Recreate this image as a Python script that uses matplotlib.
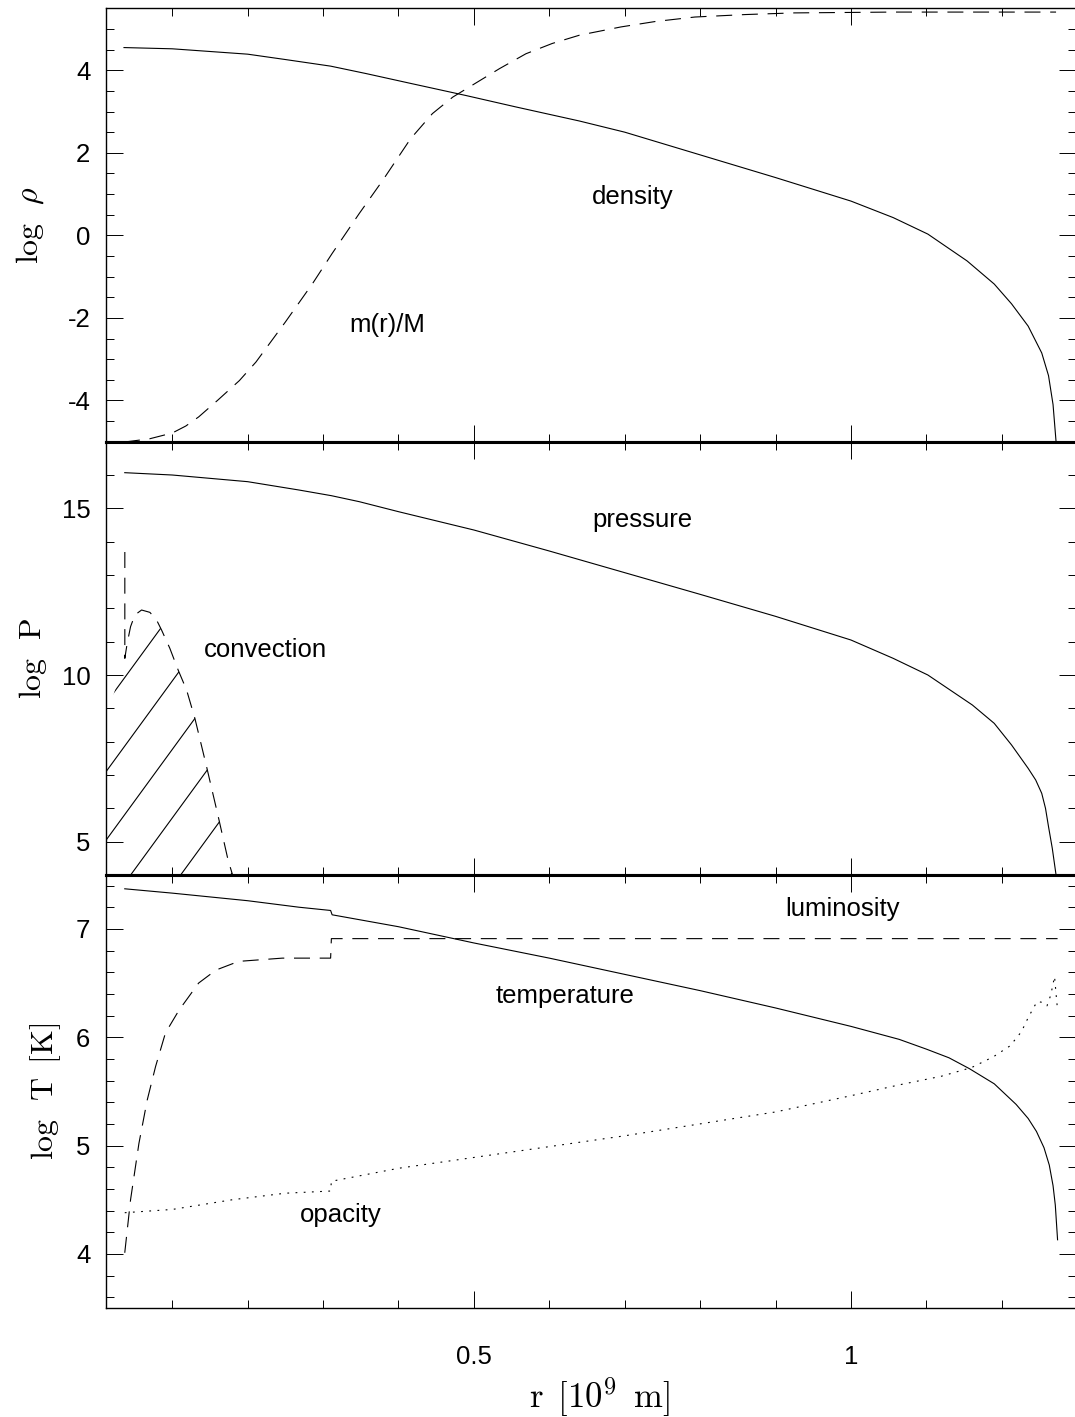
import numpy as np
import matplotlib
matplotlib.use("Agg")
import matplotlib.pyplot as plt
from matplotlib.patches import Polygon
from matplotlib.ticker import MultipleLocator, FixedLocator, FuncFormatter

plt.rcParams["font.family"] = ["Liberation Sans", "DejaVu Sans"]
plt.rcParams["mathtext.fontset"] = "cm"
plt.rcParams["axes.unicode_minus"] = False
plt.rcParams["lines.scale_dashes"] = False

# radius [10^9 m] and log density
r_rho = [0.036, 0.10, 0.20, 0.250, 0.310, 0.357, 0.414, 0.489, 0.556, 0.640, 0.70,
         0.80, 0.90, 1.00, 1.056, 1.102, 1.154, 1.19, 1.213, 1.235, 1.253, 1.262,
         1.268, 1.272]
log_rho = [4.55, 4.52, 4.39, 4.26, 4.10, 3.92, 3.69, 3.39, 3.11, 2.77, 2.50,
           1.95, 1.40, 0.83, 0.43, 0.03, -0.62, -1.18, -1.66, -2.20, -2.85, -3.40,
           -4.10, -5.0]

# mass fraction, drawn on the density scale
r_mass = [0.036, 0.07, 0.10, 0.118, 0.135, 0.160, 0.189, 0.211, 0.250, 0.286, 0.312,
          0.348, 0.379, 0.416, 0.445, 0.472, 0.498, 0.534, 0.569, 0.604, 0.640,
          0.695, 0.74, 0.793, 0.86, 0.925, 1.056, 1.272]
mass = [-5.01, -4.93, -4.79, -4.62, -4.40, -4.00, -3.52, -3.07, -2.10, -1.17, -0.44,
        0.53, 1.33, 2.34, 2.95, 3.35, 3.64, 4.04, 4.40, 4.65, 4.85,
        5.05, 5.18, 5.29, 5.35, 5.39, 5.41, 5.41]

# pressure
r_P = [0.037, 0.10, 0.20, 0.268, 0.311, 0.348, 0.40, 0.50, 0.60, 0.70, 0.80,
       0.90, 1.00, 1.056, 1.102, 1.161, 1.19, 1.213, 1.235, 1.245, 1.253, 1.258,
       1.262, 1.267, 1.272]
log_P = [16.07, 16.0, 15.8, 15.55, 15.38, 15.2, 14.9, 14.35, 13.72, 13.07, 12.42,
         11.76, 11.05, 10.5, 10.0, 9.1, 8.55, 7.9, 7.2, 6.85, 6.45, 6.0,
         5.45, 4.8, 4.0]

# convective boundary
r_conv = [0.0371, 0.0371, 0.0402, 0.0447, 0.0504, 0.0593, 0.0703, 0.0792, 0.0858,
          0.0968, 0.1078, 0.119, 0.130, 0.1455, 0.161, 0.174, 0.180]
P_conv = [13.69, 10.50, 10.95, 11.45, 11.80, 11.95, 11.88, 11.65, 11.35,
          10.80, 10.15, 9.55, 8.70, 7.25, 5.75, 4.45, 4.0]

# temperature
r_T = [0.037, 0.10, 0.20, 0.268, 0.310, 0.312, 0.40, 0.50, 0.60, 0.70, 0.80,
       0.90, 1.00, 1.064, 1.10, 1.13, 1.157, 1.19, 1.219, 1.235, 1.246, 1.256,
       1.263, 1.268, 1.271, 1.274]
log_T = [7.37, 7.33, 7.26, 7.20, 7.17, 7.13, 7.02, 6.87, 6.73, 6.58, 6.43,
         6.27, 6.10, 5.98, 5.89, 5.81, 5.71, 5.57, 5.38, 5.25, 5.13, 4.98,
         4.82, 4.63, 4.45, 4.13]

# luminosity
r_L = [0.037, 0.0447, 0.0558, 0.0668, 0.0779, 0.091, 0.109, 0.135, 0.158, 0.188,
       0.246, 0.310, 0.311, 1.274]
lum = [4.01, 4.50, 5.02, 5.42, 5.73, 6.04, 6.25, 6.50, 6.62, 6.70,
       6.73, 6.73, 6.91, 6.91]

# opacity
r_k = [0.037, 0.10, 0.18, 0.25, 0.310, 0.311, 0.40, 0.50, 0.60, 0.70, 0.80,
       0.90, 1.00, 1.064, 1.12, 1.16, 1.189, 1.211, 1.226, 1.235, 1.242, 1.247,
       1.255, 1.260, 1.265, 1.270, 1.272, 1.274]
opac = [4.38, 4.41, 4.50, 4.56, 4.58, 4.67, 4.79, 4.89, 4.99, 5.09, 5.20,
        5.31, 5.46, 5.56, 5.64, 5.72, 5.82, 5.92, 6.05, 6.18, 6.27, 6.33,
        6.32, 6.29, 6.39, 6.56, 6.40, 6.25]

XLIM = (0.0117, 1.2984)
FS = 18.5
DASH = (0, (11.5, 7.0))
DOT = (0, (1.3, 4.6))

fig = plt.figure(figsize=(10.75, 14.17), dpi=100)
left, width, h = 0.0983, 0.9026, 0.3058
ax1 = fig.add_axes([left, 0.6883, width, h])
ax2 = fig.add_axes([left, 0.3825, width, h])
ax3 = fig.add_axes([left, 0.0769, width, h])


def style_axis(ax, ylim, ymaj, ymin, show_x=False):
    ax.set_xlim(*XLIM)
    ax.set_ylim(*ylim)
    ax.xaxis.set_major_locator(FixedLocator([0.5, 1.0]))
    ax.xaxis.set_minor_locator(MultipleLocator(0.1))
    ax.yaxis.set_major_locator(MultipleLocator(ymaj))
    ax.yaxis.set_minor_locator(MultipleLocator(ymin))
    ax.xaxis.set_major_formatter(FuncFormatter(lambda v, p: "%g" % v))
    ax.yaxis.set_major_formatter(FuncFormatter(lambda v, p: "%g" % v))
    ax.tick_params(which="both", direction="in", top=True, right=True,
                   width=0.7, labelsize=FS, color="k")
    ax.tick_params(which="major", length=12)
    ax.tick_params(which="minor", length=6)
    ax.tick_params(axis="y", pad=11)
    ax.tick_params(axis="x", pad=26.5, labelbottom=show_x)
    for s in ax.spines.values():
        s.set_linewidth(1.0)


style_axis(ax1, (-5, 5.5), 2, 0.5)
style_axis(ax2, (4, 17), 5, 1)
style_axis(ax3, (3.5, 7.5), 1, 0.2, show_x=True)
ax1.spines["bottom"].set_linewidth(2.2)
ax2.spines["top"].set_linewidth(2.2)
ax2.spines["bottom"].set_linewidth(2.2)
ax3.spines["top"].set_linewidth(2.2)

# top: density and mass
ax1.plot(r_rho, log_rho, color="k", lw=0.8)
ax1.plot(r_mass, mass, color="k", lw=0.8, linestyle=DASH)
ax1.text(0.711, 0.93, "density", fontsize=FS, ha="center", va="center")
ax1.text(0.385, -2.18, "m(r)/M", fontsize=FS, ha="center", va="center")
ax1.set_ylabel(r"$\log\enspace\rho$", fontsize=23)

# middle: pressure and convection zone
ax2.plot(r_P, log_P, color="k", lw=0.8)
ax2.plot(r_conv, P_conv, color="k", lw=0.8, linestyle=DASH)
zone = np.column_stack([r_conv[1:], P_conv[1:]])
zone = np.vstack([zone, [[XLIM[0], 4.0], [XLIM[0], 8.65]]])
clip = Polygon(zone, closed=True, facecolor="none", edgecolor="none",
               transform=ax2.transData)
ax2.add_patch(clip)
slope = 31.0
for x0 in 0.0448 + 0.0663 * np.arange(-6, 3):
    hl, = ax2.plot([x0, x0 + 13.0 / slope], [4.0, 17.0], color="k", lw=0.8)
    hl.set_clip_path(clip)
ax2.text(0.723, 14.65, "pressure", fontsize=FS, ha="center", va="center")
ax2.text(0.223, 10.75, "convection", fontsize=FS, ha="center", va="center")
ax2.set_ylabel(r"$\log\enspace\mathrm{P}$", fontsize=23)

# bottom: temperature, luminosity, opacity
ax3.plot(r_T, log_T, color="k", lw=0.8)
ax3.plot(r_L, lum, color="k", lw=0.8, linestyle=DASH)
ax3.plot(r_k, opac, color="k", lw=0.8, linestyle=DOT)
ax3.text(0.989, 7.18, "luminosity", fontsize=FS, ha="center", va="center")
ax3.text(0.621, 6.38, "temperature", fontsize=FS, ha="center", va="center")
ax3.text(0.3235, 4.36, "opacity", fontsize=FS, ha="center", va="center")
ax3.set_ylabel(r"$\log\enspace\mathrm{T}\enspace[\mathrm{K}]$", fontsize=23)
ax3.set_xlabel(r"$\mathrm{r}\enspace[10^{9}\enspace\mathrm{m}]$", fontsize=25)

for ax, xc in ((ax1, -0.078), (ax2, -0.0749), (ax3, -0.0615)):
    ax.yaxis.set_label_coords(xc, 0.5)
    ax.yaxis.label.set_verticalalignment("center")
ax3.xaxis.set_label_coords(0.509, -0.205)
ax3.xaxis.label.set_verticalalignment("center")

fig.savefig("out.png", dpi=100)
